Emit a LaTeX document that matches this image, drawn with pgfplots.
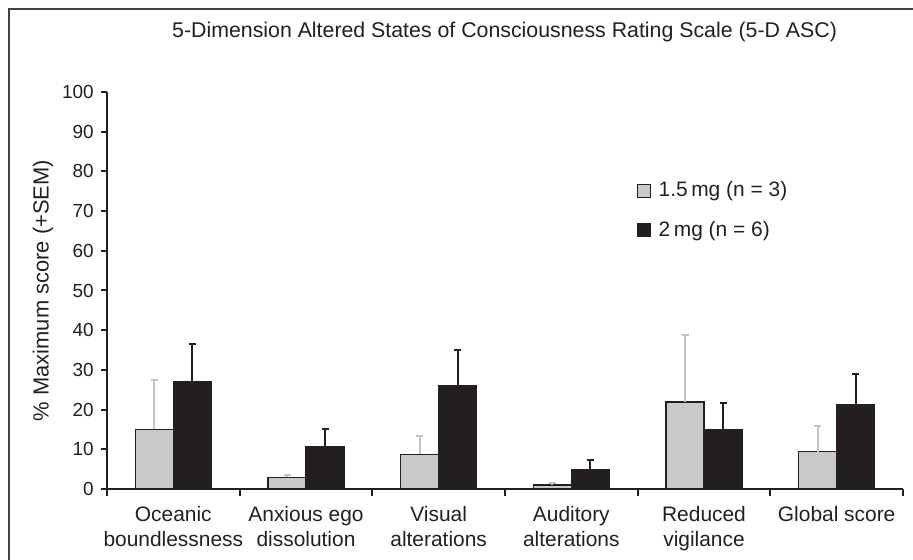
\documentclass[border=0pt]{standalone}
\usepackage{fontspec}
\setmainfont{Liberation Sans}
\usepackage{pgfplots}
\pgfplotsset{compat=1.18}
\definecolor{barblack}{HTML}{231F20}
\definecolor{bargrey}{HTML}{C8C9CB}
\definecolor{errgrey}{HTML}{C4C4C4}
\begin{document}
\fontsize{10.5}{12.5}\selectfont
\begin{tikzpicture}
\path[use as bounding box] (0,0) rectangle (456.5bp,280bp);
\draw[line width=0.8bp, color=barblack!85] (4.5bp,0) -- (4.5bp,275.5bp) -- (456.5bp,275.5bp);
\node[text=barblack, font=\fontsize{10.7}{12.5}\selectfont] at (252.3bp,264bp) {5-Dimension Altered States of Consciousness Rating Scale (5-D ASC)};
\begin{axis}[
  at={(53.5bp,35.5bp)}, anchor=south west,
  scale only axis, width=398bp, height=198.5bp,
  xmin=-0.5, xmax=5.5, ymin=0, ymax=100,
  axis x line*=bottom, axis y line*=left,
  axis line style={line width=1bp, barblack, -},
  ybar=0pt, bar width=19bp,
  tick align=outside,
  xtick={0,...,5},
  xticklabels={Oceanic\\boundlessness, Anxious ego\\dissolution, Visual\\alterations, Auditory\\alterations, Reduced\\vigilance, Global score},
  x tick label style={align=center, font=\fontsize{10.5}{12.5}\selectfont, text=barblack, anchor=north, yshift=-2bp},
  major x tick style={draw=none},
  minor xtick={-0.5,0.5,1.5,2.5,3.5,4.5,5.5},
  minor x tick style={line width=1bp, barblack},
  minor tick length=3.5bp,
  ytick={0,10,...,100},
  major tick length=3bp,
  y tick style={line width=1bp, barblack},
  y tick label style={font=\fontsize{9.5}{11}\selectfont, text=barblack},
  /pgf/number format/assume math mode=true,
  ylabel={\% Maximum score (+SEM)},
  every axis y label/.style={at={([xshift=-32bp]axis description cs:0,0.5)}, rotate=90, anchor=center, font=\fontsize{11}{13}\selectfont, text=barblack},
  legend style={at={(rel axis cs:0.658,0.795)}, anchor=north west, draw=none, fill=none, row sep=6.5bp, font=\fontsize{10.5}{12.5}\selectfont, text=barblack},
  legend cell align=left,
]
\addplot[fill=bargrey, draw=barblack, line width=0.8bp,
  error bars/.cd, y dir=plus, y explicit,
  error bar style={line width=1bp, errgrey},
  error mark options={rotate=90, mark size=1.75bp, line width=1bp, errgrey},
  /pgfplots/legend image code/.code={\draw[fill=bargrey, draw=barblack, line width=0.6bp] (0bp,-3.25bp) rectangle (6.5bp,3.25bp); \path[draw=none, fill=none] (0bp,0bp) -- (8.5bp,0bp);}]
coordinates {
 (0,15.0) +- (0,12.4)
 (1,2.9) +- (0,0.7)
 (2,8.7) +- (0,4.6)
 (3,1.0) +- (0,0.4)
 (4,21.9) +- (0,17.0)
 (5,9.4) +- (0,6.4)
};
\addlegendentry{1.5\,mg (n = 3)}
\addplot[fill=barblack, draw=barblack, line width=0.8bp,
  error bars/.cd, y dir=plus, y explicit,
  error bar style={line width=1bp, barblack},
  error mark options={rotate=90, mark size=1.75bp, line width=1bp, barblack},
  /pgfplots/legend image code/.code={\draw[fill=barblack, draw=barblack, line width=0.6bp] (0bp,-3.25bp) rectangle (6.5bp,3.25bp); \path[draw=none, fill=none] (0bp,0bp) -- (8.5bp,0bp);}]
coordinates {
 (0,27.0) +- (0,9.5)
 (1,10.7) +- (0,4.4)
 (2,25.9) +- (0,9.1)
 (3,4.9) +- (0,2.5)
 (4,14.8) +- (0,6.8)
 (5,21.3) +- (0,7.6)
};
\addlegendentry{2\,mg (n = 6)}
\end{axis}
\end{tikzpicture}
\end{document}
